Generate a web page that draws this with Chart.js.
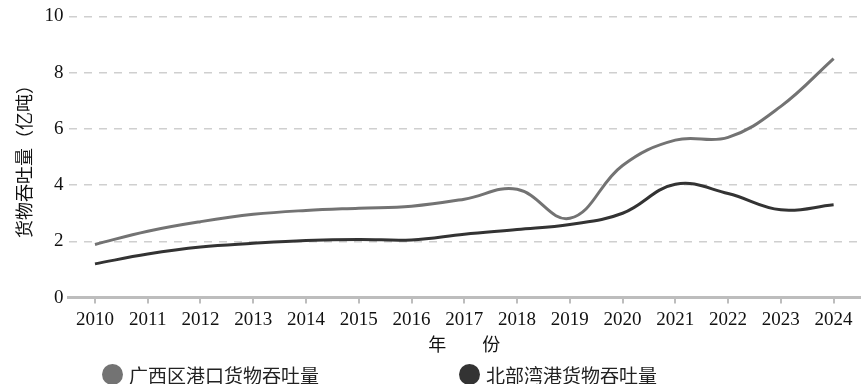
<!DOCTYPE html>
<html>
<head>
<meta charset="utf-8">
<script src="https://cdn.jsdelivr.net/npm/chart.js@4"></script>
<style>
  html, body { margin: 0; padding: 0; background: #fff; }
  #wrap { position: relative; width: 867px; height: 384px; }
  #legend { position: absolute; left: 0; top: 362px; width: 867px; height: 24px;
            font-family: "Noto Sans CJK SC", sans-serif; font-size: 19px; color: #222; }
  .item { position: absolute; top: 0; display: flex; align-items: center; height: 24px; }
  .dot { width: 21px; height: 21px; border-radius: 50%; margin-right: 6px; }
</style>
</head>
<body>
<div id="wrap">
  <canvas id="portChart" width="867" height="384"></canvas>
  <div id="legend"></div>
</div>
<script>
// Data
const years = ['2010', '2011', '2012', '2013', '2014', '2015', '2016', '2017',
               '2018', '2019', '2020', '2021', '2022', '2023', '2024'];
const guangxiPorts = [1.89, 2.36, 2.7, 2.96, 3.1, 3.18, 3.25, 3.5, 3.85, 2.82, 4.7, 5.6, 5.7, 6.8, 8.5];
const beibuGulf = [1.2, 1.55, 1.8, 1.93, 2.03, 2.07, 2.05, 2.25, 2.42, 2.6, 3.0, 4.03, 3.7, 3.12, 3.3];
const seriesNames = ['广西区港口货物吞吐量', '北部湾港货物吞吐量'];
const seriesColors = ['#737373', '#333333'];

const serif = '"Liberation Serif", "Noto Sans CJK SC", serif';
const cjk = '"Noto Sans CJK SC", sans-serif';

const ctx = document.getElementById('portChart');

new Chart(ctx, {
    type: 'line',
    data: {
        labels: years,
        datasets: [
            {
                label: seriesNames[0],
                data: guangxiPorts,
                borderColor: seriesColors[0],
                backgroundColor: seriesColors[0],
                borderWidth: 3,
                tension: 0.4,
                pointRadius: 0,
                fill: false
            },
            {
                label: seriesNames[1],
                data: beibuGulf,
                borderColor: seriesColors[1],
                backgroundColor: seriesColors[1],
                borderWidth: 3,
                tension: 0.4,
                pointRadius: 0,
                fill: false
            }
        ]
    },
    options: {
        responsive: false,
        animation: false,
        layout: {
            padding: { top: 6, right: 7, bottom: 29, left: 13 }
        },
        plugins: {
            legend: { display: false },
            tooltip: { enabled: false }
        },
        scales: {
            x: {
                offset: true,
                grid: {
                    drawOnChartArea: false,
                    color: '#bdbdbd',
                    lineWidth: 2,
                    tickLength: 6
                },
                border: { display: true, color: '#bdbdbd', width: 3 },
                ticks: {
                    color: '#111',
                    font: { family: serif, size: 19 },
                    padding: 5,
                    maxRotation: 0,
                    autoSkip: false
                },
                title: {
                    display: true,
                    text: '年　　份',
                    color: '#111',
                    font: { family: cjk, size: 18 },
                    padding: { top: -3, bottom: 0 }
                }
            },
            y: {
                min: 0,
                max: 10,
                ticks: {
                    stepSize: 2,
                    color: '#111',
                    font: { family: serif, size: 19 },
                    padding: 5
                },
                grid: {
                    color: '#cfcfcf',
                    lineWidth: 1.5,
                    drawTicks: false,
                    borderDash: [8, 7]
                },
                border: { display: true, color: 'rgba(0,0,0,0)', width: 0, dash: [8, 7] },
                title: {
                    display: true,
                    text: '货物吞吐量（亿吨）',
                    color: '#111',
                    font: { family: cjk, size: 18 },
                    padding: { top: 0, bottom: 5 }
                }
            }
        }
    }
});

// Legend drawn as HTML so item spacing matches the reference
const legendBox = document.getElementById('legend');
const legendLeft = [102, 459];
seriesNames.forEach((name, i) => {
    const item = document.createElement('div');
    item.className = 'item';
    item.style.left = legendLeft[i] + 'px';
    const dot = document.createElement('span');
    dot.className = 'dot';
    dot.style.background = seriesColors[i];
    const txt = document.createElement('span');
    txt.textContent = name;
    item.appendChild(dot);
    item.appendChild(txt);
    legendBox.appendChild(item);
});
</script>
</body>
</html>
